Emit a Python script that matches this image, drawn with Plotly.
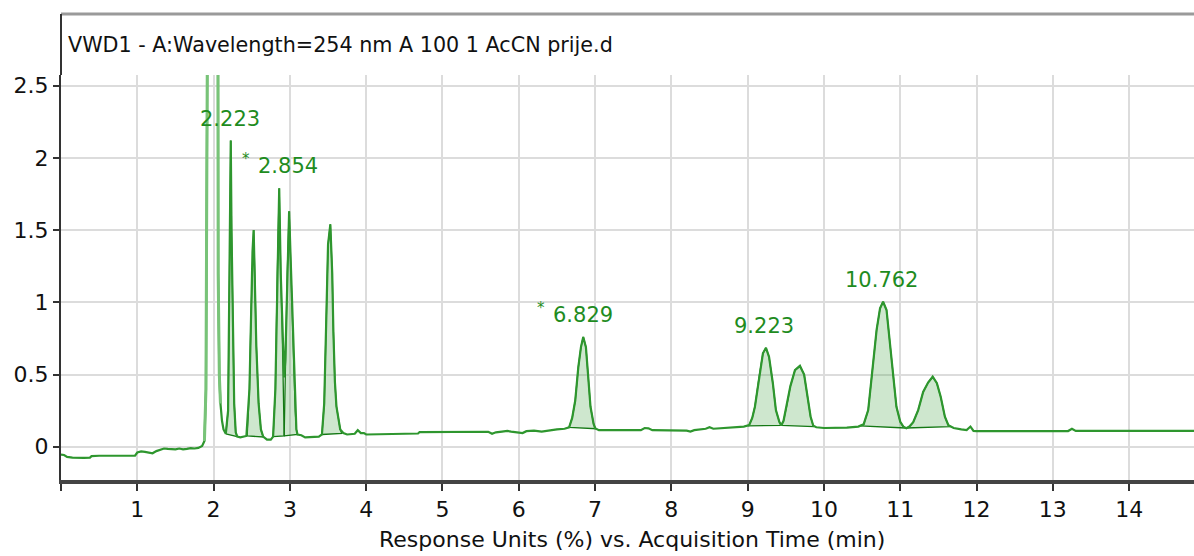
import plotly.graph_objects as go
import numpy as np

# ---- data ----
time_min = [
    0.00, 0.04, 0.08, 0.15, 0.30, 0.38, 0.40, 0.50, 0.70, 0.97, 1.00, 1.05, 1.10, 1.15, 1.20, 1.25,
    1.30, 1.35, 1.40, 1.50, 1.55, 1.60, 1.65, 1.70, 1.75, 1.80, 1.85, 1.88, 1.90, 1.92,
    2.05, 2.057, 2.06, 2.075, 2.09, 2.11, 2.13, 2.16, 2.19, 2.205, 2.215, 2.225, 2.235, 2.25,
    2.27, 2.29, 2.31, 2.35, 2.40, 2.43, 2.47, 2.49, 2.51, 2.525, 2.54, 2.56, 2.59, 2.62, 2.65,
    2.70, 2.75, 2.78, 2.81, 2.835, 2.86, 2.88, 2.90, 2.925, 2.94, 2.965, 2.99, 3.01, 3.035,
    3.055, 3.07, 3.085, 3.10, 3.15, 3.20, 3.30, 3.38, 3.42, 3.45, 3.48, 3.50, 3.53, 3.555,
    3.57, 3.59, 3.61, 3.63, 3.66, 3.70, 3.75, 3.85, 3.89, 3.93, 3.97, 4.00, 4.30, 4.68, 4.70,
    5.00, 5.30, 5.60, 5.65, 5.70, 5.78, 5.85, 5.90, 6.02, 6.05, 6.10, 6.20, 6.30, 6.40, 6.50,
    6.60, 6.66, 6.70, 6.74, 6.78, 6.815, 6.845, 6.88, 6.91, 6.94, 6.98, 7.00, 7.05, 7.30,
    7.60, 7.65, 7.70, 7.75, 8.00, 8.20, 8.25, 8.30, 8.45, 8.50, 8.55, 8.80, 8.95, 9.02, 9.06,
    9.095, 9.15, 9.20, 9.24, 9.28, 9.33, 9.37, 9.415, 9.44, 9.47, 9.51, 9.56, 9.62, 9.685,
    9.74, 9.78, 9.825, 9.86, 9.90, 10.00, 10.20, 10.30, 10.45, 10.52, 10.58, 10.64, 10.69,
    10.735, 10.775, 10.82, 10.865, 10.91, 10.95, 11.00, 11.04, 11.08, 11.12, 11.17, 11.235,
    11.30, 11.365, 11.425, 11.48, 11.53, 11.585, 11.63, 11.70, 11.80, 11.87, 11.92, 11.96,
    12.00, 12.50, 13.00, 13.20, 13.25, 13.30, 13.50, 14.00, 14.85,
]
response = [
    -0.055, -0.057, -0.070, -0.075, -0.077, -0.075, -0.065, -0.062, -0.062, -0.062, -0.040,
    -0.032, -0.035, -0.040, -0.045, -0.030, -0.020, -0.012, -0.015, -0.018, -0.012, -0.018,
    -0.015, -0.010, -0.012, -0.008, 0.005, 0.040, 0.400, 3.000,
    3.000, 3.000, 1.200, 0.500, 0.300, 0.180, 0.120, 0.090, 0.250, 1.000, 1.800, 2.120, 1.500,
    0.800, 0.300, 0.100, 0.070, 0.065, 0.070, 0.075, 0.400, 0.900, 1.350, 1.500, 1.200, 0.700,
    0.300, 0.120, 0.070, 0.050, 0.050, 0.070, 0.400, 1.200, 1.790, 1.200, 0.800, 0.480, 0.600,
    1.200, 1.630, 1.300, 0.900, 0.450, 0.250, 0.120, 0.085, 0.080, 0.065, 0.068, 0.070, 0.085,
    0.300, 0.950, 1.400, 1.540, 1.200, 0.800, 0.450, 0.280, 0.200, 0.120, 0.095, 0.085, 0.090,
    0.115, 0.095, 0.095, 0.085, 0.090, 0.092, 0.102, 0.102, 0.103, 0.104, 0.090, 0.100, 0.105,
    0.110, 0.105, 0.100, 0.095, 0.108, 0.112, 0.105, 0.115, 0.120, 0.125, 0.135, 0.200, 0.320,
    0.550, 0.690, 0.760, 0.690, 0.485, 0.277, 0.160, 0.128, 0.115, 0.113, 0.115, 0.130, 0.128,
    0.115, 0.115, 0.112, 0.105, 0.115, 0.125, 0.135, 0.125, 0.132, 0.140, 0.150, 0.200, 0.277,
    0.485, 0.647, 0.685, 0.623, 0.440, 0.254, 0.173, 0.148, 0.180, 0.280, 0.420, 0.530, 0.560,
    0.500, 0.360, 0.208, 0.145, 0.135, 0.130, 0.128, 0.132, 0.140, 0.155, 0.254, 0.554, 0.810,
    0.958, 1.004, 0.947, 0.716, 0.485, 0.277, 0.173, 0.139, 0.128, 0.140, 0.170, 0.254, 0.380,
    0.445, 0.485, 0.440, 0.346, 0.208, 0.150, 0.130, 0.120, 0.115, 0.140, 0.110, 0.108, 0.110,
    0.110, 0.109, 0.125, 0.110, 0.110, 0.110, 0.110,
]

# integrated peaks: baseline start/end (time, response)
base_start_t = [2.16, 2.44, 2.78, 2.925, 3.42, 6.66, 9.00, 9.44, 10.47, 11.07]
base_start_v = [0.090, 0.075, 0.070, 0.075, 0.085, 0.135, 0.145, 0.148, 0.145, 0.130]
base_end_t = [2.31, 2.65, 2.925, 3.10, 3.68, 7.01, 9.44, 9.87, 11.07, 11.66]
base_end_v = [0.070, 0.068, 0.075, 0.085, 0.092, 0.125, 0.148, 0.140, 0.130, 0.140]

# solvent front (off-scale, drawn lighter)
solvent_t = [1.88, 2.09]

# peak labels
label_text = ["2.223", "2.854", "6.829", "9.223", "10.762"]
label_t = [2.215, 2.975, 6.845, 9.21, 10.76]
label_v = [2.12, 1.79, 0.76, 0.685, 1.004]
label_star = [False, True, True, False, False]

x_ticks = list(range(0, 15))
x_ticklabels = [""] + [str(i) for i in range(1, 15)]
y_ticks = [0, 0.5, 1, 1.5, 2, 2.5]
y_ticklabels = ["0", "0.5", "1", "1.5", "2", "2.5"]

title_text = "VWD1 - A:Wavelength=254 nm A 100 1 AcCN prije.d"
xaxis_title = "Response Units (%) vs. Acquisition Time (min)"

# ---- styling ----
FONT = "DejaVu Sans"
LINE_GREEN = "rgb(46,150,46)"
DARK_GREEN = "rgb(20,120,20)"
LIGHT_GREEN = "rgb(120,195,120)"
FILL_GREEN = "rgba(60,160,60,0.25)"
LABEL_GREEN = "rgb(30,140,30)"

t_arr = np.array(time_min)
v_arr = np.array(response)

fig = go.Figure()

# filled integrated peaks
for ts, vs, te, ve in zip(base_start_t, base_start_v, base_end_t, base_end_v):
    m = (t_arr > ts) & (t_arr < te)
    px = [ts] + list(t_arr[m]) + [te, ts]
    py = [vs] + list(v_arr[m]) + [ve, vs]
    fig.add_trace(go.Scatter(x=px, y=py, mode="lines", fill="toself",
                             fillcolor=FILL_GREEN, line=dict(color=DARK_GREEN, width=1.3),
                             hoverinfo="skip", showlegend=False))

# main trace
fig.add_trace(go.Scatter(x=time_min, y=response, mode="lines",
                         line=dict(color=LINE_GREEN, width=2.2), showlegend=False))

# solvent front overlay (lighter)
ms = (t_arr >= solvent_t[0]) & (t_arr <= solvent_t[1])
fig.add_trace(go.Scatter(x=t_arr[ms], y=v_arr[ms], mode="lines",
                         line=dict(color=LIGHT_GREEN, width=3), showlegend=False,
                         hoverinfo="skip"))

# peak labels
for txt, lt, lv, star in zip(label_text, label_t, label_v, label_star):
    fig.add_annotation(x=lt, y=lv, text=txt, showarrow=False, xanchor="center",
                       yanchor="bottom", yshift=8,
                       font=dict(family=FONT, size=21, color=LABEL_GREEN))
    if star:
        fig.add_annotation(x=lt, y=lv, text="*", showarrow=False, xanchor="right",
                           yanchor="bottom", yshift=18, xshift=-36,
                           font=dict(family=FONT, size=15, color=LABEL_GREEN))

# title inside the frame
fig.add_annotation(xref="paper", yref="paper", x=0.004, y=1.074, text=title_text,
                   showarrow=False, xanchor="left", yanchor="middle",
                   font=dict(family=FONT, size=20.7, color="#111"))
# x axis title
fig.add_annotation(xref="paper", yref="paper", x=0.504, y=-0.148, text=xaxis_title,
                   showarrow=False, xanchor="center", yanchor="middle",
                   font=dict(family=FONT, size=22, color="#111"))

# frame: top border and left border extension
fig.add_shape(type="line", xref="paper", yref="paper", x0=0, x1=1, y0=1.1506, y1=1.1506,
              line=dict(color="#9a9a9a", width=3))
fig.add_shape(type="line", xref="paper", yref="paper", x0=0, x1=0, y0=1.0, y1=1.1506,
              line=dict(color="#333", width=2))

fig.update_layout(
    width=1194, height=556,
    margin=dict(l=61, r=0, t=75, b=76, autoexpand=False),
    paper_bgcolor="white", plot_bgcolor="white",
    showlegend=False,
    font=dict(family=FONT, color="#111"),
)
fig.update_xaxes(range=[0, 14.85], tickmode="array", tickvals=x_ticks, ticktext=x_ticklabels,
                 ticks="outside", ticklen=7, tickwidth=2, tickcolor="#333",
                 tickfont=dict(family=FONT, size=22, color="#111"), automargin=False,
                 showline=True, linecolor="#444", linewidth=4,
                 showgrid=True, gridcolor="#dcdcdc", gridwidth=2, zeroline=False)
fig.update_yaxes(range=[-0.23, 2.574], tickmode="array", tickvals=y_ticks, ticktext=y_ticklabels,
                 ticks="outside", ticklen=6, tickwidth=2, tickcolor="#333",
                 tickfont=dict(family=FONT, size=22, color="#111"), automargin=False,
                 showline=True, linecolor="#333", linewidth=2,
                 showgrid=True, gridcolor="#dcdcdc", gridwidth=2, zeroline=False)

fig.write_html("out.html", config={"displayModeBar": False},
               post_script="document.body.style.margin='0';document.body.style.overflow='hidden';")
